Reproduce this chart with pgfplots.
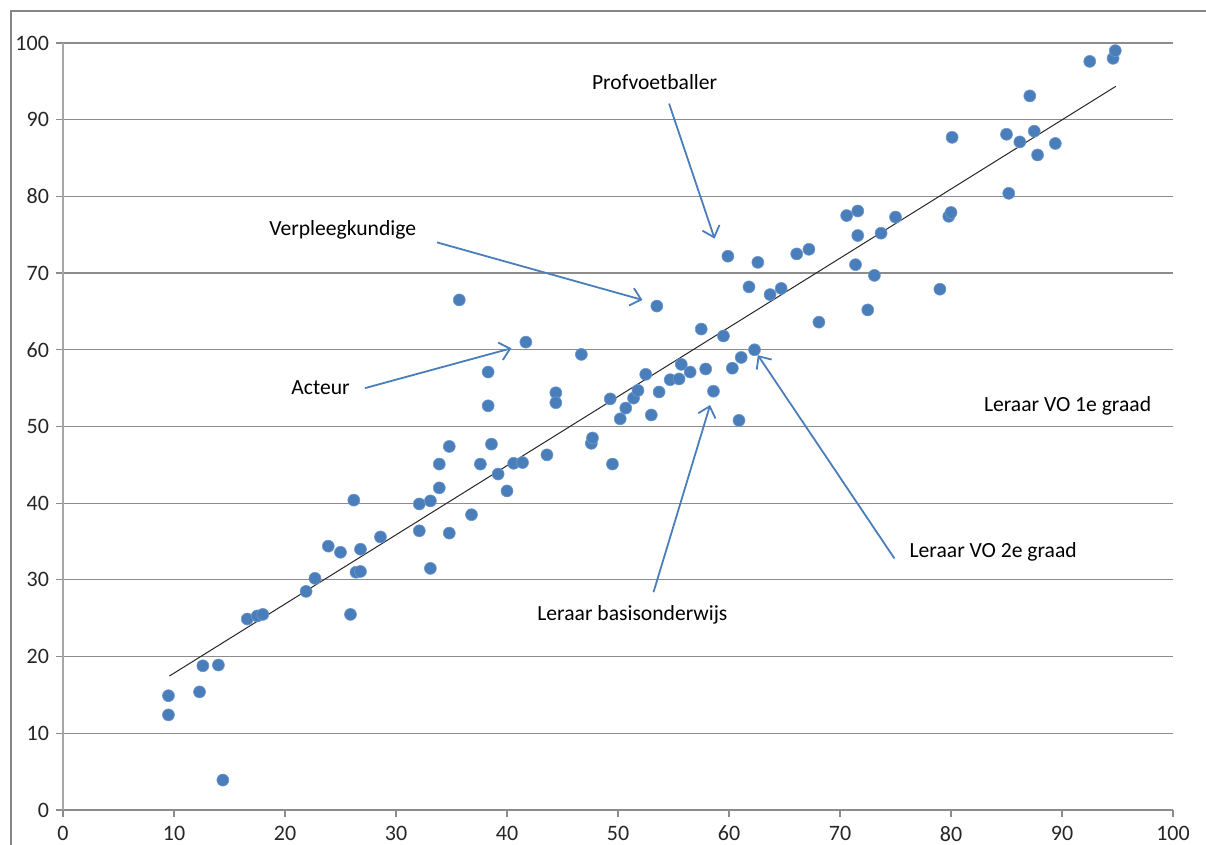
\documentclass[border=0pt]{standalone}
\usepackage{fontspec}
\setmainfont{Carlito}
\usepackage{pgfplots}
\pgfplotsset{compat=1.18}
\usetikzlibrary{arrows.meta}
\definecolor{dotblue}{HTML}{4A7EBB}
\definecolor{dotedge}{HTML}{6E98CC}
\definecolor{gridgray}{HTML}{8C8C8C}
\definecolor{axgray}{HTML}{A6A6A6}
\definecolor{framegray}{HTML}{868686}
\begin{document}
\begin{tikzpicture}
\path[use as bounding box] (-31.5pt,-17.5pt) rectangle (571.5pt,405pt);
\draw[framegray, line width=1pt] (-26pt,-17.5pt) -- (-26pt,399.5pt) -- (571.5pt,399.5pt);
\begin{axis}[
  at={(0,0)}, anchor=south west,
  scale only axis, width=555pt, height=383.5pt,
  xmin=0, xmax=100, ymin=0, ymax=100,
  xtick={0,10,...,100}, ytick={0,10,...,100},
  ymajorgrids,
  major grid style={gridgray, line width=0.6pt},
  axis x line*=bottom, axis y line*=left,
  x axis line style={gridgray, line width=0.6pt},
  y axis line style={axgray, line width=0.6pt},
  tick align=outside, major tick length=3.5pt,
  tick style={gridgray, line width=0.6pt},
  tick label style={font=\fontsize{11}{13}\selectfont, text=black!85},
  xticklabel style={yshift=-1pt},
  /pgf/number format/assume math mode=true,
  clip=false,
]
\addplot[only marks, mark=*, mark size=3pt, mark options={fill=dotblue, draw=dotedge, line width=0.3pt}] coordinates {
(9.5,14.9) (9.5,12.4) (12.3,15.4) (12.6,18.8) (14.0,18.9) (14.4,3.9)
(16.6,24.9) (17.5,25.3) (18.0,25.5) (25.9,25.5) (21.9,28.5) (22.7,30.2)
(23.9,34.4) (25.0,33.6) (26.2,40.4) (26.4,31.0) (26.8,31.1) (26.8,34.0)
(28.6,35.6) (35.7,66.5) (53.5,65.7) (41.7,61.0) (46.7,59.4) (38.3,57.1)
(38.3,52.7) (44.4,54.4) (44.4,53.1) (34.8,47.4) (33.9,45.1) (33.9,42.0)
(32.1,39.9) (33.1,40.3) (32.1,36.4) (34.8,36.1) (33.1,31.5) (36.8,38.5)
(37.6,45.1) (38.6,47.7) (39.2,43.8) (40.0,41.6) (40.6,45.2) (41.4,45.3)
(43.6,46.3) (47.6,47.8) (47.7,48.5) (49.5,45.1) (49.3,53.6) (50.2,51.0)
(50.7,52.4) (51.4,53.7) (51.8,54.7) (52.5,56.8) (53.0,51.5) (53.7,54.5)
(54.7,56.1) (55.5,56.2) (55.7,58.1) (56.5,57.1) (57.5,62.7) (57.9,57.5)
(58.6,54.6) (59.5,61.8) (60.3,57.6) (61.1,59.0) (62.3,60.0) (60.9,50.8)
(59.9,72.2) (62.6,71.4) (61.8,68.2) (63.7,67.2) (64.7,68.0) (66.1,72.5)
(67.2,73.1) (68.1,63.6) (70.6,77.5) (71.6,78.1) (71.6,74.9) (73.7,75.2)
(75.0,77.3) (71.4,71.1) (73.1,69.7) (72.5,65.2) (79.0,67.9) (80.1,87.7)
(79.8,77.4) (80.0,77.9) (85.0,88.1) (85.2,80.4) (86.2,87.1) (87.1,93.1)
(87.5,88.5) (87.8,85.4) (89.4,86.9) (92.5,97.6) (94.6,98.0) (94.8,99.0)
};
\addplot[black!85, line width=0.5pt] coordinates {(9.58,17.46) (94.86,94.36)};
% annotations
\begin{scope}[every node/.style={font=\fontsize{10.8}{13}\selectfont, text=black}]
\node at (axis cs:53.3,94.9) {Profvoetballer};
\node at (axis cs:25.2,75.6) {Verpleegkundige};
\node at (axis cs:23.2,55.1) {Acteur};
\node at (axis cs:51.3,25.4) {Leraar basisonderwijs};
\node at (axis cs:83.8,33.6) {Leraar VO 2e graad};
\node at (axis cs:90.5,52.7) {Leraar VO 1e graad};
\end{scope}
\begin{scope}[dotblue, line width=0.9pt, -{Straight Barb[length=5pt,width=9pt]}]
\draw (axis cs:54.6,92.1) -- (axis cs:58.7,74.5);
\draw (axis cs:33.7,74.0) -- (axis cs:52.2,66.5);
\draw (axis cs:27.2,55.0) -- (axis cs:40.4,60.2);
\draw (axis cs:53.2,28.4) -- (axis cs:58.3,52.8);
\draw (axis cs:74.9,32.8) -- (axis cs:62.6,59.3);
\end{scope}
\end{axis}
\end{tikzpicture}
\end{document}
